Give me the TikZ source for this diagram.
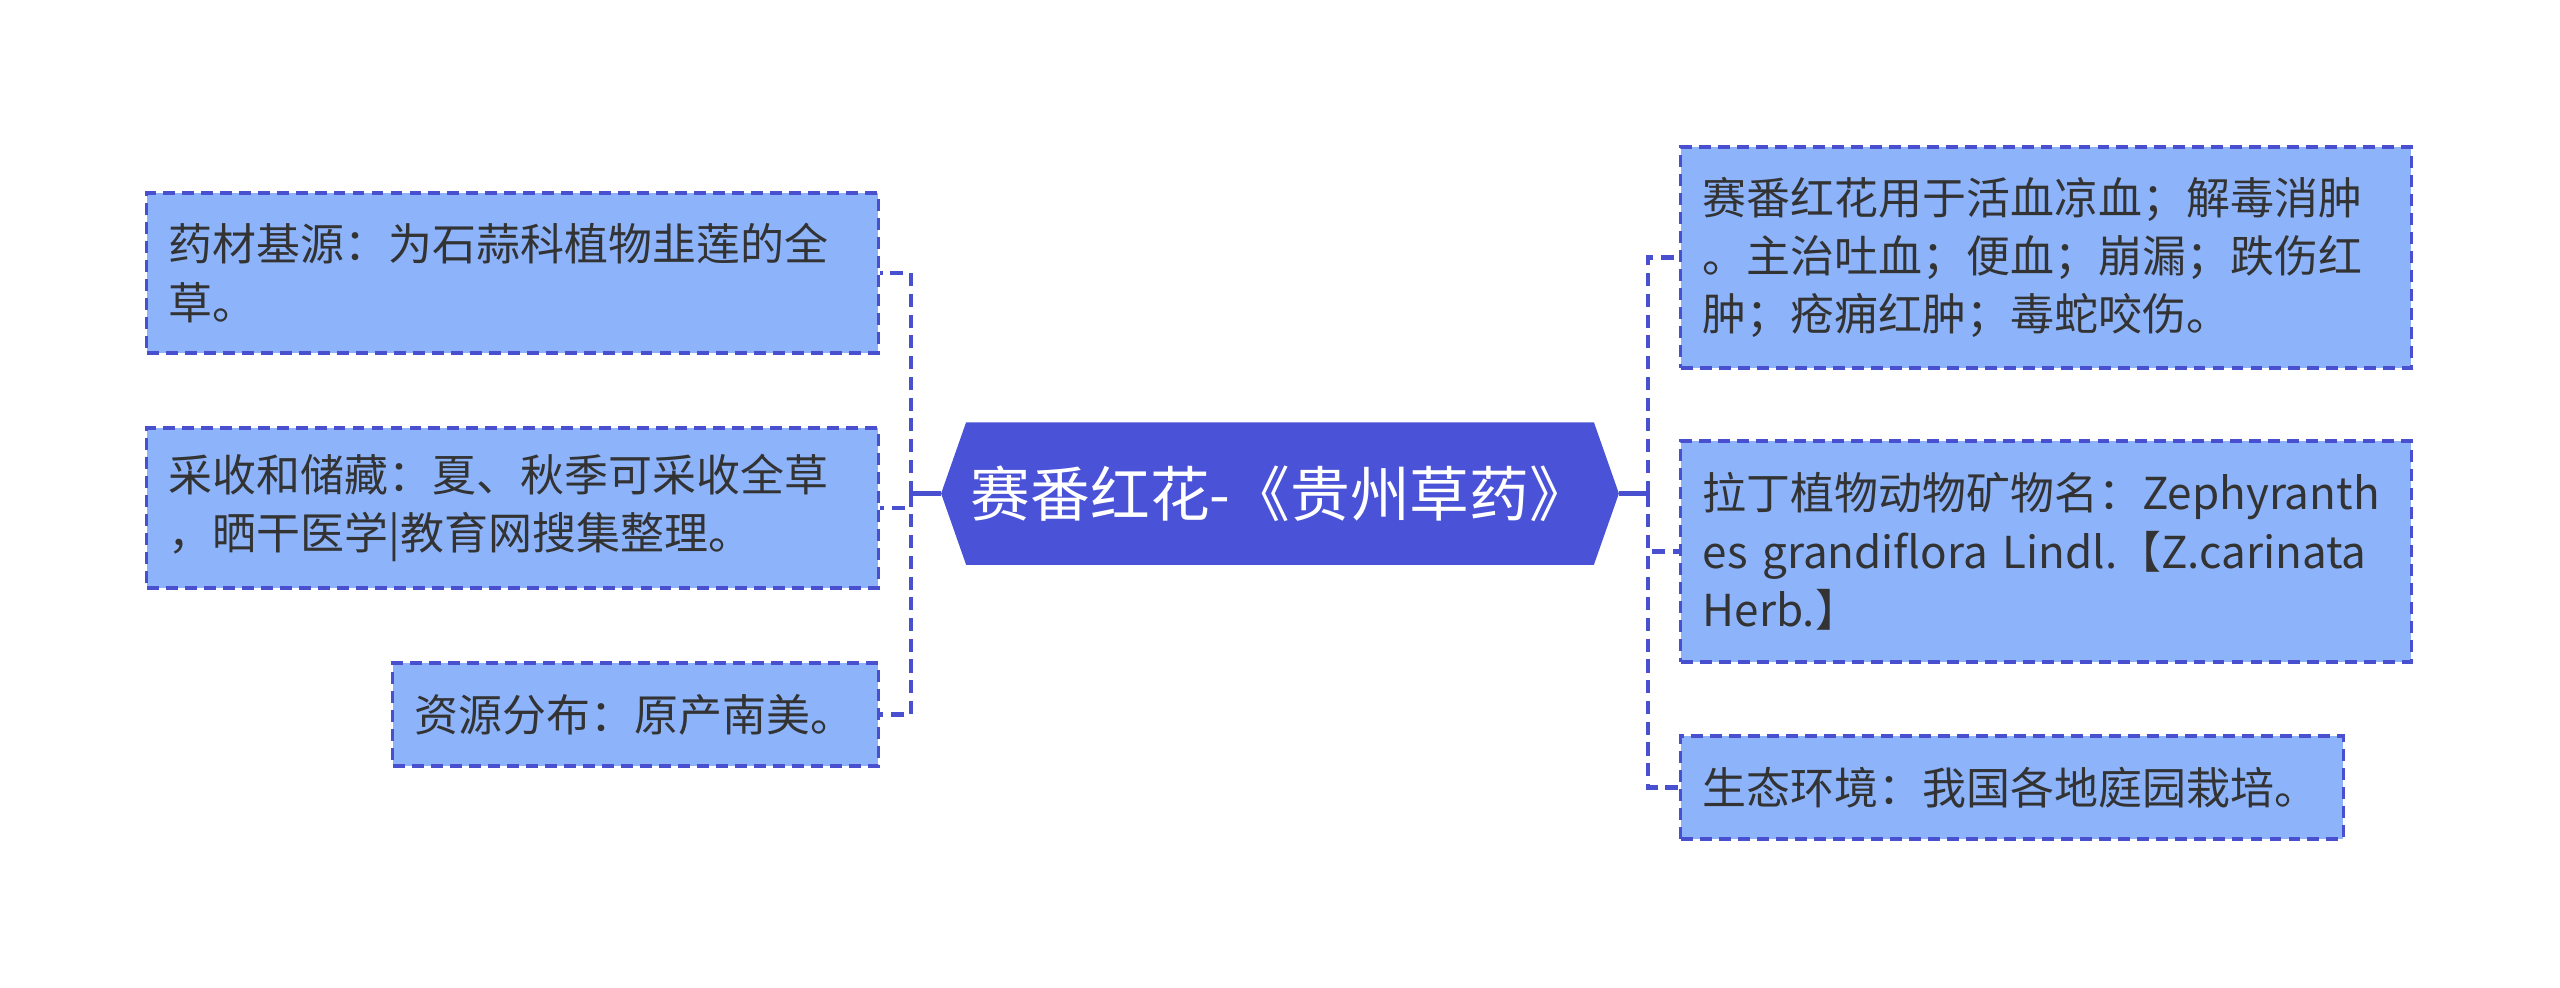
\documentclass[tikz,border=0pt]{standalone}
\usepackage{fontspec}
\setmainfont{Noto Sans CJK SC}
\usetikzlibrary{calc,backgrounds}
\definecolor{boxfill}{RGB}{141,180,251}
\definecolor{edgeblue}{RGB}{72,80,208}
\definecolor{mainfill}{RGB}{74,83,215}
\definecolor{txt}{RGB}{51,51,51}
\begin{document}
\begin{tikzpicture}[x=0.01cm,y=-0.01cm,
  leaf/.style={draw=edgeblue, fill=boxfill, line width=0.9pt,
    dash pattern=on 3.4pt off 2pt, align=left, text=txt,
    inner xsep=0.22cm, inner ysep=0pt,
    font={\fontsize{12.5pt}{16.6pt}\selectfont}},
  hub/.style={text=white, inner sep=0pt,
    font={\fontsize{17pt}{20pt}\selectfont}},
  trunk/.style={draw=edgeblue, line width=1.15pt},
  conn/.style={draw=edgeblue, line width=1.15pt, dash pattern=on 3.7pt off 2.2pt}]
\useasboundingbox (0,0) rectangle (2560,987);

% central topic
\node[hub, minimum width=6.76cm, minimum height=1.41cm] (c) at (1280,493.5) {赛番红花-《贵州草药》};
\begin{scope}[on background layer]
\fill[mainfill] (c.west) -- ($(c.north west)+(25,0)$) -- ($(c.north east)+(-25,0)$)
  -- (c.east) -- ($(c.south east)+(-25,0)$) -- ($(c.south west)+(25,0)$) -- cycle;
\end{scope}

% left branches
\node[leaf, text width=6.87cm, minimum height=1.60cm] (l1) at (512.5,273)
  {药材基源：为石蒜科植物韭莲的全\\草。};
\node[leaf, text width=6.87cm, minimum height=1.60cm] (l2) at (512.5,508)
  {采收和储藏：夏、秋季可采收全草\\，晒干医学|教育网搜集整理。};
\node[leaf, text width=4.41cm, minimum height=1.03cm] (l3) at (635.5,714.5)
  {资源分布：原产南美。};

% right branches
\node[leaf, text width=6.86cm, minimum height=2.21cm] (r1) at (2046,257.5)
  {赛番红花用于活血凉血；解毒消肿\\。主治吐血；便血；崩漏；跌伤红\\肿；疮痈红肿；毒蛇咬伤。};
\node[leaf, text width=6.86cm, minimum height=2.21cm] (r2) at (2046,551.5)
  {拉丁植物动物矿物名：Zephyranth\\es grandiflora Lindl.【Z.carinata\\Herb.】};
\node[leaf, text width=6.18cm, minimum height=1.03cm] (r3) at (2012,787.5)
  {生态环境：我国各地庭园栽培。};

% connectors
\coordinate (jl) at (911,493.5);
\coordinate (jr) at (1648,493.5);
\draw[trunk] (c.west) -- (jl);
\draw[trunk] (c.east) -- (jr);
\draw[conn] (jl) |- (l1.east);
\draw[conn] (jl) |- (l2.east);
\draw[conn] (jl) |- (l3.east);
\draw[conn] (jr) |- (r1.west);
\draw[conn] (jr) |- (r2.west);
\draw[conn] (jr) |- (r3.west);
\end{tikzpicture}
\end{document}
